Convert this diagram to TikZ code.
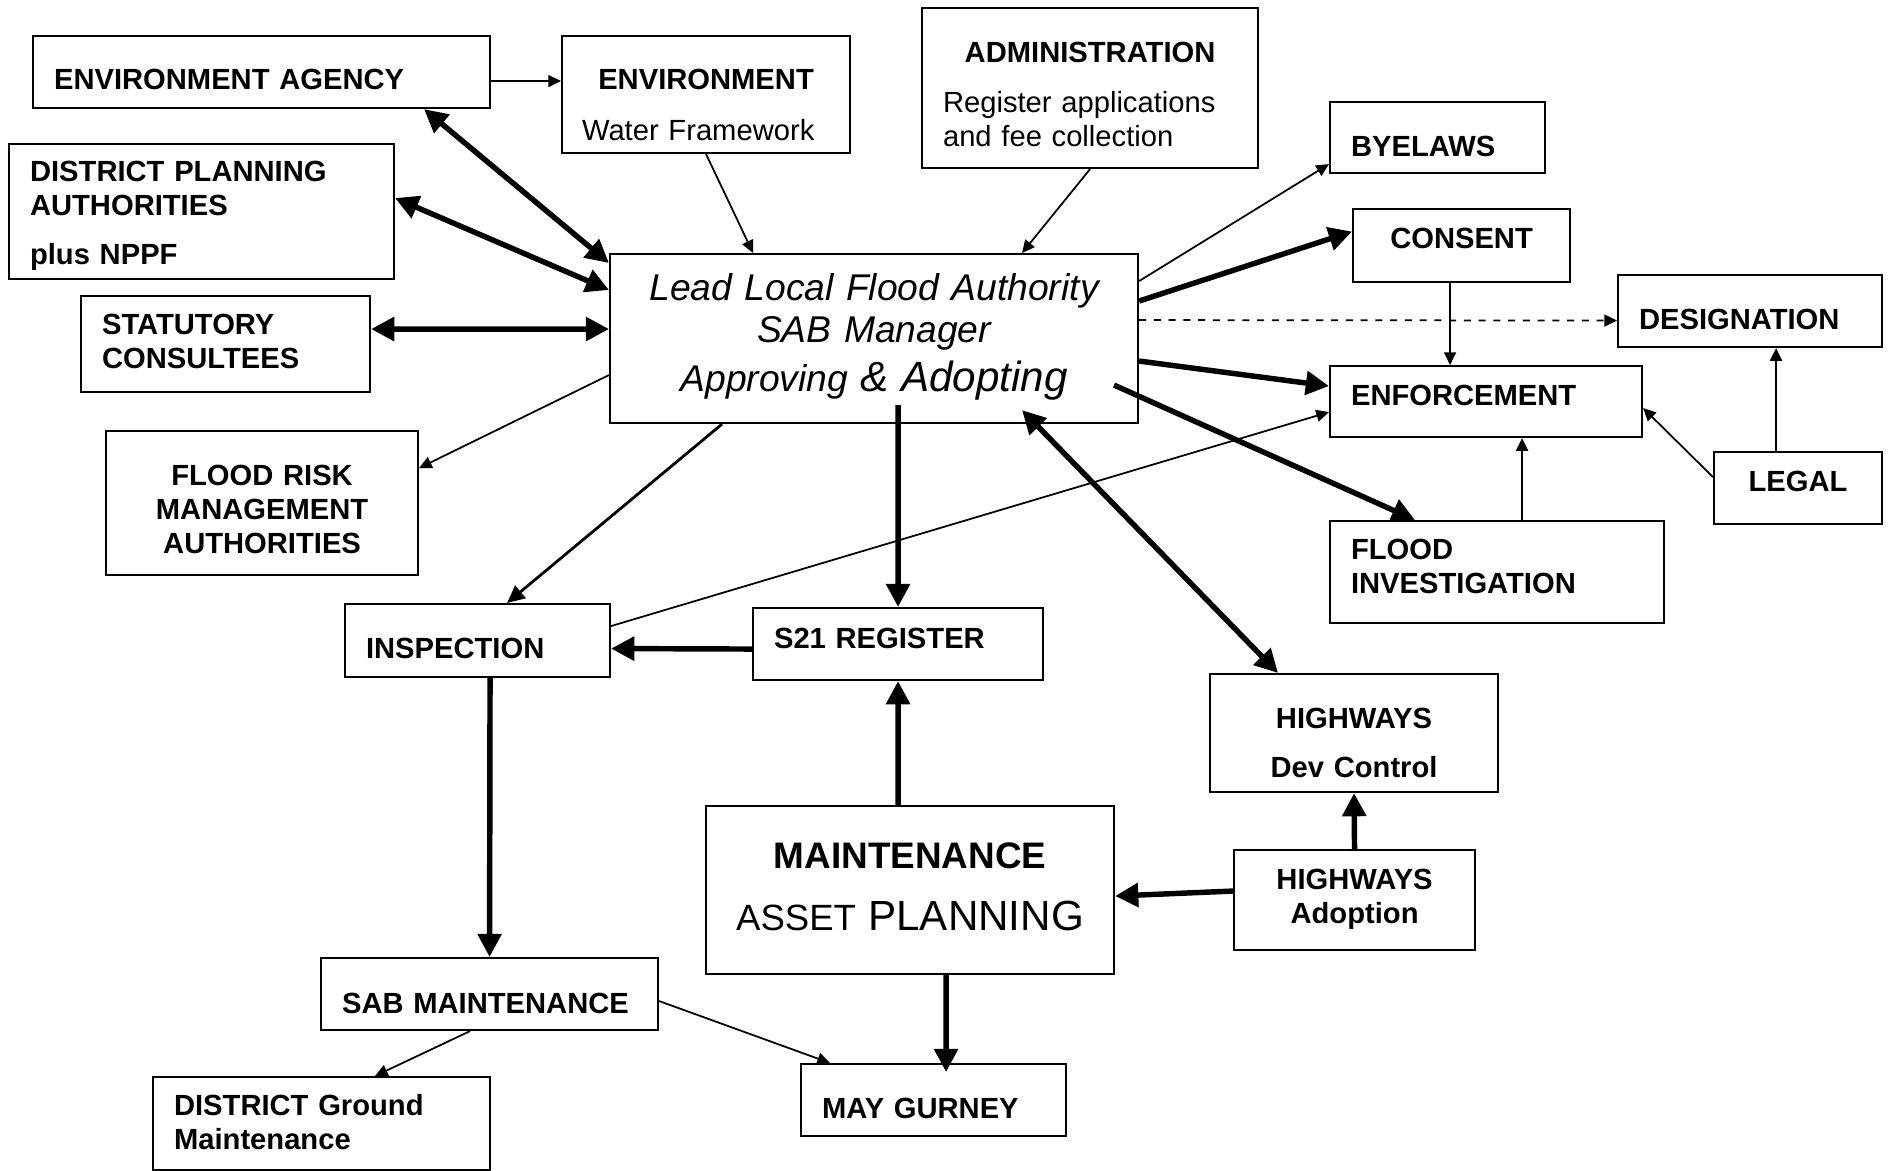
\documentclass[tikz,border=0pt]{standalone}
\usepackage{fontspec}
\setmainfont{Liberation Sans}
\usetikzlibrary{arrows.meta}

\begin{document}
\begin{tikzpicture}[x=0.1mm, y=-0.1mm]

% definitions
\tikzstyle{box} = [rectangle, draw=black, line width=0.6pt, anchor=north west, inner ysep=0pt, font=\fontsize{8.3}{9.67}\selectfont\bfseries]

\tikzstyle{boxL} = [box, inner xsep=2.1mm, align=left]

\tikzstyle{boxC} = [box, inner xsep=1mm, align=center]

\tikzstyle{arrow} = [-{Triangle[length=3.6pt,width=3.4pt]}, line width=0.5pt]

\tikzstyle{dasharrow} = [arrow, dash pattern=on 2pt off 2.2pt]

\tikzstyle{midarrow} = [-{Triangle[length=5pt,width=4.6pt]}, line width=0.8pt]

\tikzstyle{fatarrow} = [-{Triangle[length=6.6pt,width=6.6pt]}, line width=1.55pt]

\tikzstyle{fatboth} = [{Triangle[length=6.6pt,width=6.6pt]}-{Triangle[length=6.6pt,width=6.6pt]}, line width=1.55pt]

\useasboundingbox (0,0) rectangle (1888,1171);


% authority in the middle
\node (llfa) [boxC, text width=50.8mm, text height=4.6mm, text depth=12.3mm, font=\fontsize{10.6}{12}\selectfont\itshape] at (609,253) {Lead Local Flood Authority\\SAB Manager\\[2pt]Approving {\fontsize{12}{14}\selectfont\& Adopting}};


% left column
\node (ea) [boxL, text width=41.5mm, text height=5.35mm, text depth=1.85mm] at (32,35) {ENVIRONMENT AGENCY};
\node (dpa) [boxL, text width=34.3mm, text height=3.7mm, text depth=9.8mm] at (8,143) {DISTRICT PLANNING\\AUTHORITIES\\[4.27pt]plus NPPF};
\node (stat) [boxL, text width=24.7mm, text height=3.8mm, text depth=5.8mm] at (80,295) {STATUTORY\\CONSULTEES};
\node (frma) [boxC, text width=29.2mm, text height=5.4mm, text depth=9mm] at (105,430) {FLOOD RISK\\MANAGEMENT\\AUTHORITIES};

\draw [fatboth] ([xshift=-6.7mm]ea.south east) -- ([yshift=-1mm]llfa.north west);
\draw [fatboth] ([yshift=1.35mm]dpa.east) -- ([yshift=-3.7mm]llfa.north west);
\draw [fatboth] ([yshift=1.5mm]stat.east) -- ([yshift=0.95mm]llfa.west);
\draw [arrow] ([yshift=-3.65mm]llfa.west) -- ([yshift=3.5mm]frma.east);


% top row
\node (env) [boxL, inner xsep=2mm, text width=24.8mm, text height=5.35mm, text depth=6.35mm] at (561,35) {\makebox[\linewidth]{ENVIRONMENT}\\[4.8pt]\mdseries Water Framework};
\node (admin) [boxL, text width=29.4mm, text height=5.4mm, text depth=10.6mm] at (921,7) {\makebox[\linewidth]{ADMINISTRATION}\\[4.7pt]\mdseries Register applications\\and fee collection};

\draw [arrow] ([yshift=-0.9mm]ea.east) -- ([yshift=1.35mm]env.west);
\draw [arrow] (env.south) -- ([xshift=-12.1mm]llfa.north);
\draw [arrow] (admin.south) -- ([xshift=14.8mm]llfa.north);


% right side
\node (byelaws) [boxL, text width=17.3mm, text height=5.4mm, text depth=1.7mm] at (1329,101) {BYELAWS};
\node (consent) [boxC, text width=19.7mm, text height=3.95mm, text depth=3.35mm] at (1352,208) {CONSENT};
\node (desig) [boxL, text width=22.2mm, text height=5.4mm, text depth=1.8mm] at (1617,274) {DESIGNATION};
\node (enf) [boxL, text width=27mm, text height=3.9mm, text depth=3.2mm] at (1329,365) {ENFORCEMENT};
\node (legal) [boxC, text width=14.8mm, text height=3.9mm, text depth=3.3mm] at (1713,451) {LEGAL};
\node (floodinv) [boxL, text width=29.2mm, text height=3.8mm, text depth=6.4mm] at (1329,520) {FLOOD\\INVESTIGATION};

\draw [arrow] ([yshift=5.75mm]llfa.east) -- ([yshift=1mm]byelaws.south west);
\draw [fatarrow] ([yshift=3.75mm]llfa.east) -- ([yshift=1.4mm]consent.west);
\draw [dasharrow] ([yshift=1.85mm]llfa.east) -- ([yshift=-0.95mm]desig.west);
\draw [fatarrow] ([yshift=-2.25mm]llfa.east) -- ([yshift=1.55mm]enf.west);
\draw [fatarrow] ([shift={(-2.5mm,3.9mm)}]llfa.south east) -- ([xshift=8.6mm]floodinv.north west);

\draw [arrow] ([xshift=-1.15mm]consent.south) -- ([xshift=-3.6mm]enf.north);
\draw [arrow] ([xshift=2.5mm]floodinv.north) -- ([xshift=3.6mm]enf.south);
\draw [arrow] ([yshift=1.1mm]legal.west) -- ([yshift=-0.65mm]enf.east);
\draw [arrow] ([xshift=-2.2mm]legal.north) -- ([xshift=2.6mm]desig.south);


% lower part
\node (insp) [boxL, text width=22.3mm, text height=5.4mm, text depth=1.9mm] at (344,603) {INSPECTION};
\node (s21) [boxL, text width=24.8mm, text height=4mm, text depth=3.2mm] at (752,607) {S21 REGISTER};
\node (maint) [boxC, text width=38.8mm, text height=6.2mm, text depth=10.6mm, font=\fontsize{10.5}{12.6}\selectfont\bfseries] at (705,805) {MAINTENANCE\\[5.3pt]\mdseries\fontsize{10.4}{12.6}\selectfont ASSET {\fontsize{12}{14}\selectfont PLANNING}};
\node (hwydev) [boxC, text width=26.8mm, text height=5.4mm, text depth=6.4mm] at (1209,673) {HIGHWAYS\\[4.27pt]Dev Control};
\node (hwyadopt) [boxC, text width=22.1mm, text height=3.9mm, text depth=6.1mm] at (1233,849) {HIGHWAYS\\Adoption};
\node (sabm) [boxL, text width=29.5mm, text height=5.5mm, text depth=1.7mm] at (320,957) {SAB MAINTENANCE};
\node (dgm) [boxL, text width=29.5mm, text height=3.85mm, text depth=5.45mm] at (152,1076) {DISTRICT Ground\\Maintenance};
\node (mg) [boxL, text width=22.3mm, text height=5.4mm, text depth=1.8mm] at (800,1063) {MAY GURNEY};

\draw [midarrow] ([xshift=11.3mm]llfa.south west) -- ([xshift=2.95mm]insp.north);
\draw [fatarrow] ([shift={(2.4mm,1.9mm)}]llfa.south) -- (s21.north);
\draw [fatboth] ([shift={(14.8mm,1.4mm)}]llfa.south) -- ([xshift=-7.6mm]hwydev.north);

\draw [arrow] ([yshift=1.45mm]insp.east) -- ([yshift=2.6mm]enf.south west);
\draw [fatarrow] ([yshift=-0.5mm]s21.west) -- ([yshift=-0.8mm]insp.east);
\draw [fatarrow] ([xshift=-1.2mm]maint.north) -- (s21.south);
\draw [fatarrow] ([yshift=0.9mm]hwyadopt.west) -- ([yshift=-0.6mm]maint.east);
\draw [fatarrow] (hwyadopt.north) -- (hwydev.south);
\draw [fatarrow] ([xshift=1.25mm]insp.south) -- (sabm.north);
\draw [arrow] ([xshift=-1.95mm]sabm.south) -- ([xshift=5.35mm]dgm.north);
\draw [arrow] ([yshift=-0.7mm]sabm.east) -- ([xshift=3mm]mg.north west);
\draw [fatarrow] ([xshift=3.6mm]maint.south) -- ([shift={(1.25mm,-0.9mm)}]mg.north);

\end{tikzpicture}
\end{document}
